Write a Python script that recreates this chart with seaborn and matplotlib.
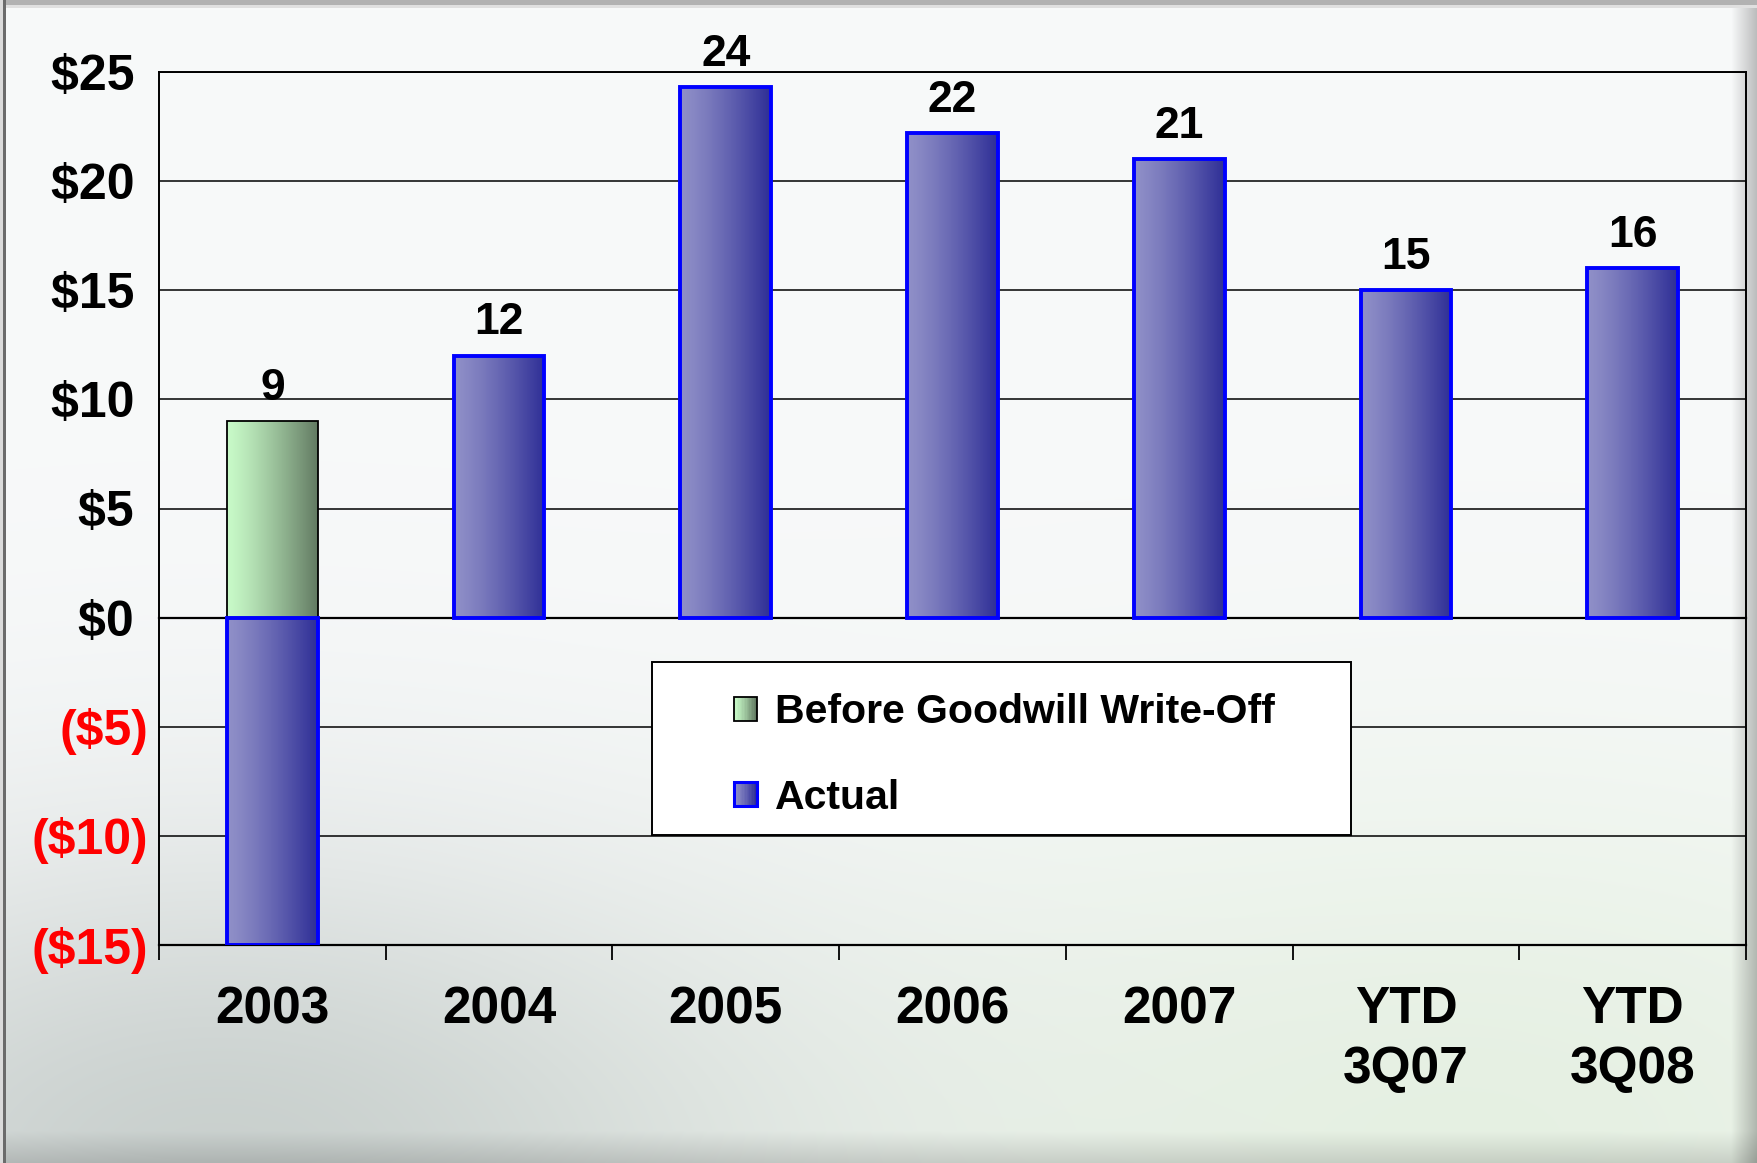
import numpy as np
import pandas as pd
import matplotlib
matplotlib.use("Agg")
import matplotlib.pyplot as plt
from matplotlib.patches import Rectangle
from matplotlib.legend_handler import HandlerBase
from matplotlib.colors import to_rgb
import seaborn as sns

# ---- data -------------------------------------------------------------
periods = ["2003", "2004", "2005", "2006", "2007", "YTD\n3Q07", "YTD\n3Q08"]
before_periods = ["2003"]
before_values = [9.0]
actual_values = [-15.0, 12.0, 24.3, 22.2, 21.0, 15.0, 16.0]
y_ticks = [-15, -10, -5, 0, 5, 10, 15, 20, 25]
BEFORE = "Before Goodwill Write-Off"
ACTUAL = "Actual"

df = pd.concat([
    pd.DataFrame({"period": before_periods, "series": BEFORE, "value": before_values}),
    pd.DataFrame({"period": periods, "series": ACTUAL, "value": actual_values}),
], ignore_index=True)

# ---- style ------------------------------------------------------------
sns.set_style("white")
plt.rcParams["font.family"] = ["Liberation Sans", "DejaVu Sans"]
plt.rcParams["font.weight"] = "bold"
plt.rcParams["text.color"] = "black"
plt.rcParams["xtick.color"] = "black"
plt.rcParams["ytick.color"] = "black"

gradients = {
    BEFORE: ("#c8fac8", "#627a62", "black", 1.3),
    ACTUAL: ("#9090c8", "#2e2e96", "#0000ff", 2.8),
}

W, H = 1757, 1163
fig = plt.figure(figsize=(W / 100, H / 100), dpi=100)

# ---- slide-like backdrop ---------------------------------------------
yy, xx = np.mgrid[0:H, 0:W]
u = xx / W
v = yy / H
bg = np.ones((H, W, 3)) * np.array([0.972, 0.978, 0.980])
haze = np.exp(-(((u - 0.12) / 0.33) ** 2 + ((v - 1.0) / 0.28) ** 2))
bg -= haze[..., None] * np.array([0.18, 0.16, 0.17])
tint = np.exp(-(((u - 0.85) / 0.38) ** 2 + ((v - 0.98) / 0.32) ** 2))
bg -= tint[..., None] * np.array([0.07, 0.035, 0.09])
bottom = np.clip((v - 0.972) / 0.028, 0, 1)
bg *= (1 - 0.14 * bottom)[..., None]
right = np.clip((u - 0.985) / 0.015, 0, 1)
bg *= (1 - 0.25 * right)[..., None]
bg[:5] = 0.70
bg[5:8] = 0.88
bg[:, 0:3] = 0.86
bg[:, 3:6] = 0.42
bg = np.clip(bg, 0, 1)
ax_bg = fig.add_axes([0, 0, 1, 1], zorder=-1)
ax_bg.imshow(bg, aspect="auto", interpolation="bilinear")
ax_bg.axis("off")

# ---- main chart -------------------------------------------------------
ax = fig.add_axes([159 / W, 1 - 945 / H, 1587 / W, 873 / H], zorder=1)
ax.patch.set_alpha(0)

sns.barplot(data=df, x="period", y="value", hue="series", order=periods,
            hue_order=[BEFORE, ACTUAL], dodge=False, width=0.4,
            palette={BEFORE: gradients[BEFORE][0], ACTUAL: gradients[ACTUAL][0]},
            saturation=1, legend=False, ax=ax)


def ramp(c0, c1, n=256):
    t = np.linspace(0, 1, n) ** 1.25
    a, b = np.array(to_rgb(c0)), np.array(to_rgb(c1))
    return (a[None, :] * (1 - t[:, None]) + b[None, :] * t[:, None])[None, :, :]


# replace flat bar fills with horizontal gradients
for container, name in zip(ax.containers, [BEFORE, ACTUAL]):
    c0, c1, edge, lw = gradients[name]
    grad = ramp(c0, c1)
    for bar in container:
        h = bar.get_height()
        if not np.isfinite(h):
            continue
        x0, y0, w = bar.get_x(), bar.get_y(), bar.get_width()
        ax.imshow(grad, extent=[x0, x0 + w, y0, y0 + h], aspect="auto",
                  interpolation="bilinear", zorder=2)
        bar.set_facecolor("none")
        bar.set_edgecolor(edge)
        bar.set_linewidth(lw)
        bar.set_zorder(3)
        if h > 0:
            ax.annotate(f"{h:.0f}", (x0 + w / 2, y0 + h), xytext=(0, 9),
                        textcoords="offset points", ha="center", va="bottom",
                        fontsize=32, fontweight="bold", color="black", zorder=6)

ax.set_xlim(-0.5, len(periods) - 0.5)
ax.set_ylim(-15, 25)
ax.set_xlabel("")
ax.set_ylabel("")

# y axis: currency with accounting-style negatives
ylabels = [f"(${abs(t)})" if t < 0 else f"${t} " for t in y_ticks]
ax.set_yticks(y_ticks, labels=ylabels)
for lab, t in zip(ax.get_yticklabels(), y_ticks):
    lab.set_color("#ff0000" if t < 0 else "black")
    lab.set_fontsize(36)
    lab.set_fontweight("bold")
ax.tick_params(axis="y", length=0, pad=8)
ax.yaxis.grid(True, color="black", linewidth=1.1)
ax.set_axisbelow(True)

# category axis crosses at zero, labels sit at the bottom
for s in ["left", "top", "right"]:
    ax.spines[s].set_visible(True)
    ax.spines[s].set_color("black")
    ax.spines[s].set_linewidth(1.4)
ax.spines["bottom"].set_position(("data", 0))
ax.spines["bottom"].set_color("black")
ax.spines["bottom"].set_linewidth(1.6)
boundaries = np.arange(-0.5, len(periods), 1.0)
ax.set_xticks(range(len(periods)))
ax.set_xticks(boundaries, minor=True)
ax.tick_params(axis="x", which="major", length=0, labelbottom=False)
ax.tick_params(axis="x", which="minor", direction="out", length=11, width=1.3,
               color="black")

sec = ax.secondary_xaxis("bottom")
sec.set_xticks(range(len(periods)), labels=periods)
sec.set_xticks(boundaries, minor=True)
sec.tick_params(axis="x", which="major", length=0, pad=29, labelcolor="black")
sec.tick_params(axis="x", which="minor", direction="out", length=11, width=1.3,
                color="black")
sec.spines["bottom"].set_color("black")
sec.spines["bottom"].set_linewidth(1.6)
for lab in sec.get_xticklabels():
    lab.set_fontsize(37)
    lab.set_fontweight("bold")
    lab.set_color("black")
    lab.set_linespacing(1.28)

# ---- legend -----------------------------------------------------------
class GradientSwatch(HandlerBase):
    def __init__(self, c0, c1, edge, lw):
        super().__init__()
        self.c0, self.c1, self.edge, self.lw = c0, c1, edge, lw

    def create_artists(self, legend, orig_handle, xdescent, ydescent, width,
                       height, fontsize, trans):
        cols = ramp(self.c0, self.c1, 16)[0]
        n = len(cols)
        arts = [Rectangle((-xdescent + width * i / n, -ydescent), width / n,
                          height, facecolor=cols[i], edgecolor="none",
                          transform=trans) for i in range(n)]
        arts.append(Rectangle((-xdescent, -ydescent), width, height,
                              facecolor="none", edgecolor=self.edge,
                              linewidth=self.lw, transform=trans))
        return arts


ax.add_patch(Rectangle((0.3107, 0.126), 0.4404, 0.1982, transform=ax.transAxes,
                       facecolor="white", edgecolor="black", linewidth=1.4,
                       zorder=5))
h_before = Rectangle((0, 0), 1, 1)
h_actual = Rectangle((0, 0), 1, 1)
leg = fig.legend([h_before, h_actual], [BEFORE, ACTUAL],
                 handler_map={h_before: GradientSwatch(*gradients[BEFORE][:2], "black", 1.3),
                              h_actual: GradientSwatch(*gradients[ACTUAL][:2], "#0000ff", 2.2)},
                 loc="center left", bbox_to_anchor=(734 / W, 1 - 755 / H),
                 frameon=False, borderpad=0, borderaxespad=0,
                 handlelength=0.55, handleheight=0.55, handletextpad=0.45,
                 labelspacing=1.15, prop={"size": 29.5, "weight": "bold"})
for t in leg.get_texts():
    t.set_color("black")
leg.set_zorder(10)

fig.savefig("out.png", dpi=100)
